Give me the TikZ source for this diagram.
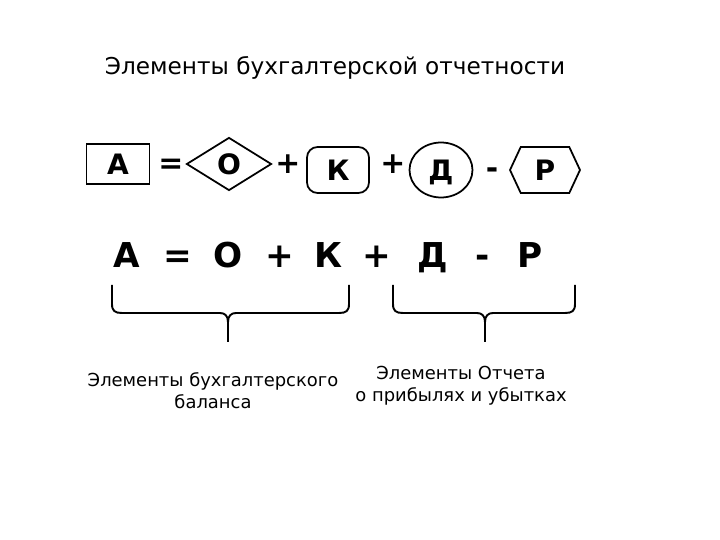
\documentclass[tikz,border=0pt]{standalone}
\usepackage{fontspec}
\setmainfont{DejaVu Sans}
\usetikzlibrary{shapes.geometric}
\usetikzlibrary{shapes.symbols}
\tikzstyle{element}=[draw, line width=1pt, inner sep=0, text height=11.6pt, text depth=0pt, font=\fontsize{16}{17}\selectfont\bfseries]
\tikzstyle{operation}=[anchor=base, font=\fontsize{17}{19}\selectfont\bfseries]
\tikzstyle{letter}=[anchor=base, font=\fontsize{19.5}{21}\selectfont\bfseries]
\tikzstyle{caption}=[align=center, font=\fontsize{10.2}{12.5}\selectfont]
\tikzstyle{brace}=[line width=1.1pt]

\begin{document}
\begin{tikzpicture}[x=0.02cm, y=-0.02cm]
      \useasboundingbox (0, 0) rectangle (720, 540);

      \node[font=\fontsize{13.2}{15}\selectfont] (title) at (335, 68) {Элементы бухгалтерской отчетности};

      % shapes
      \node[element, minimum width=1.26cm, minimum height=0.8cm] (A) at (118, 164) {А};
      \node[operation] (eq) at (171, 174) {=};
      \node[element, diamond, minimum width=1.7cm, minimum height=1.06cm] (O) at (229, 164) {О};
      \node[operation] (plus1) at (288, 174) {+};
      \node[element, rounded corners=6pt, minimum width=1.24cm, minimum height=0.92cm] (K) at (338, 170) {К};
      \node[operation] (plus2) at (393, 174) {+};
      \node[element, ellipse, minimum width=1.26cm, minimum height=1.1cm] (D) at (441, 170) {Д};
      \node[operation] (minus) at (492, 179) {-};
      \node[element, signal, signal to=east and west, signal pointer angle=130, minimum width=1.4cm, minimum height=0.92cm] (R) at (545, 170) {Р};

      % formula
      \node[letter] (fA) at (127, 268) {А};
      \node[letter] (feq) at (178, 268) {=};
      \node[letter] (fO) at (228, 268) {О};
      \node[letter] (fplus1) at (280, 268) {+};
      \node[letter] (fK) at (328, 268) {К};
      \node[letter] (fplus2) at (377, 268) {+};
      \node[letter] (fD) at (433, 268) {Д};
      \node[letter] (fminus) at (483, 268) {-};
      \node[letter] (fR) at (530, 268) {Р};

      % braces
      \coordinate (b1) at (228, 342);
      \coordinate (b2) at (485, 342);
      \draw[brace] (112, 285) -- (112, 304) .. controls (112, 311) and (115, 313) .. (122, 313)
        -- (220, 313) .. controls (225, 313) and (228, 316) .. (228, 322) -- (b1);
      \draw[brace] (349, 285) -- (349, 304) .. controls (349, 311) and (346, 313) .. (339, 313)
        -- (236, 313) .. controls (231, 313) and (228, 316) .. (228, 322);
      \draw[brace] (393, 285) -- (393, 304) .. controls (393, 311) and (396, 313) .. (403, 313)
        -- (477, 313) .. controls (482, 313) and (485, 316) .. (485, 322) -- (b2);
      \draw[brace] (575, 285) -- (575, 304) .. controls (575, 311) and (572, 313) .. (565, 313)
        -- (493, 313) .. controls (488, 313) and (485, 316) .. (485, 322);

      \node[caption] (balance) at (213, 391) {Элементы бухгалтерского\\баланса};
      \node[caption] (report) at (461, 386) {Элементы Отчета\\о прибылях и убытках};
    \end{tikzpicture}
\end{document}
